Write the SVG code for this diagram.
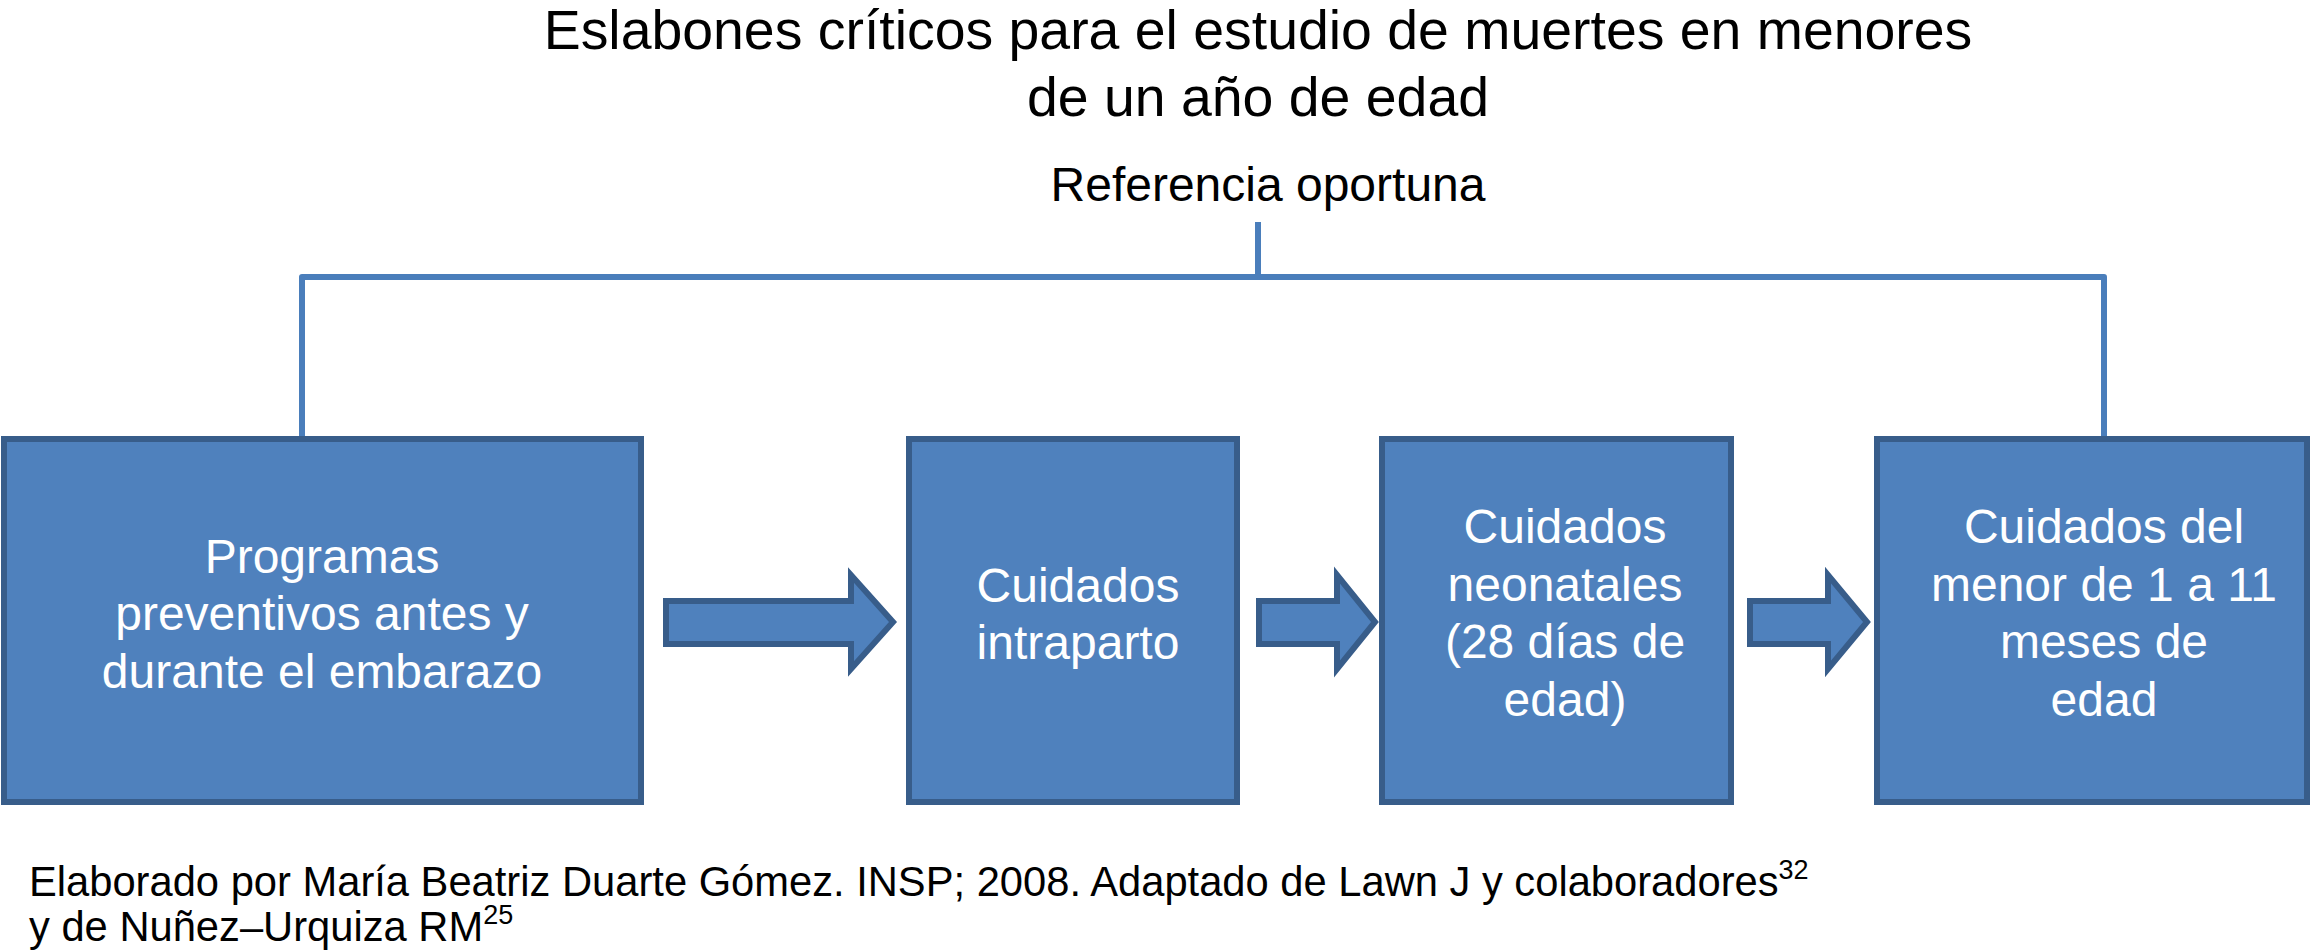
<svg xmlns="http://www.w3.org/2000/svg" width="2312" height="952" viewBox="0 0 2312 952">
<style>
.ttl{font-family:"Liberation Sans",Arial,sans-serif;fill:#000;text-anchor:middle}
.box{fill:#4F81BD;stroke:#385D8A;stroke-width:6}
.lbl{font-family:"Liberation Sans",Arial,sans-serif;font-size:48px;fill:#fff;text-anchor:middle}
.arr{fill:#4F81BD;stroke:#385D8A;stroke-width:6;stroke-linejoin:miter}
.con{fill:none;stroke:#4A7EBB;stroke-width:6;stroke-linejoin:round}
.foot{font-family:"Liberation Sans",Arial,sans-serif;font-size:41.7px;fill:#000}
</style>
<rect width="2312" height="952" fill="#fff"/>
<g id="title">
<text class="ttl" x="1258" y="49" font-size="55.4">Eslabones críticos para el estudio de muertes en menores</text>
<text class="ttl" x="1258" y="116" font-size="55.4">de un año de edad</text>
<text class="ttl" x="1268" y="201" font-size="48">Referencia oportuna</text>
</g>
<g id="connectors">
<path class="con" d="M1258,222 V277"/>
<path class="con" d="M302,440 V277 H2104 V440"/>
<path class="arr" d="M666,601 H851 V575 L893,622 L851,669 V644 H666 Z"/>
<path class="arr" d="M1259,601 H1337 V575 L1375,622 L1337,669 V644 H1259 Z"/>
<path class="arr" d="M1750,601 H1828 V575 L1867,622 L1828,669 V644 H1750 Z"/>
</g>
<g id="node1">
<rect class="box" x="4" y="439" width="637" height="363"/>
<text class="lbl" x="322" y="572.5">Programas</text>
<text class="lbl" x="322" y="630">preventivos antes y</text>
<text class="lbl" x="322" y="687.5">durante el embarazo</text>
</g>
<g id="node2">
<rect class="box" x="909" y="439" width="328" height="363"/>
<text class="lbl" x="1078" y="601.5">Cuidados</text>
<text class="lbl" x="1078" y="659">intraparto</text>
</g>
<g id="node3">
<rect class="box" x="1382" y="439" width="349" height="363"/>
<text class="lbl" x="1565" y="543">Cuidados</text>
<text class="lbl" x="1565" y="600.5">neonatales</text>
<text class="lbl" x="1565" y="658">(28 días de</text>
<text class="lbl" x="1565" y="715.5">edad)</text>
</g>
<g id="node4">
<rect class="box" x="1877" y="439" width="430" height="363"/>
<text class="lbl" x="2104" y="543">Cuidados del</text>
<text class="lbl" x="2104" y="600.5">menor de 1 a 11</text>
<text class="lbl" x="2104" y="658">meses de</text>
<text class="lbl" x="2104" y="715.5">edad</text>
</g>
<g id="footer">
<text class="foot" x="29" y="896">Elaborado por María Beatriz Duarte Gómez. INSP; 2008. Adaptado de Lawn J y colaboradores<tspan font-size="27" dy="-17">32</tspan></text>
<text class="foot" x="29" y="941">y de Nuñez–Urquiza RM<tspan font-size="27" dy="-17">25</tspan></text>
</g>
</svg>
